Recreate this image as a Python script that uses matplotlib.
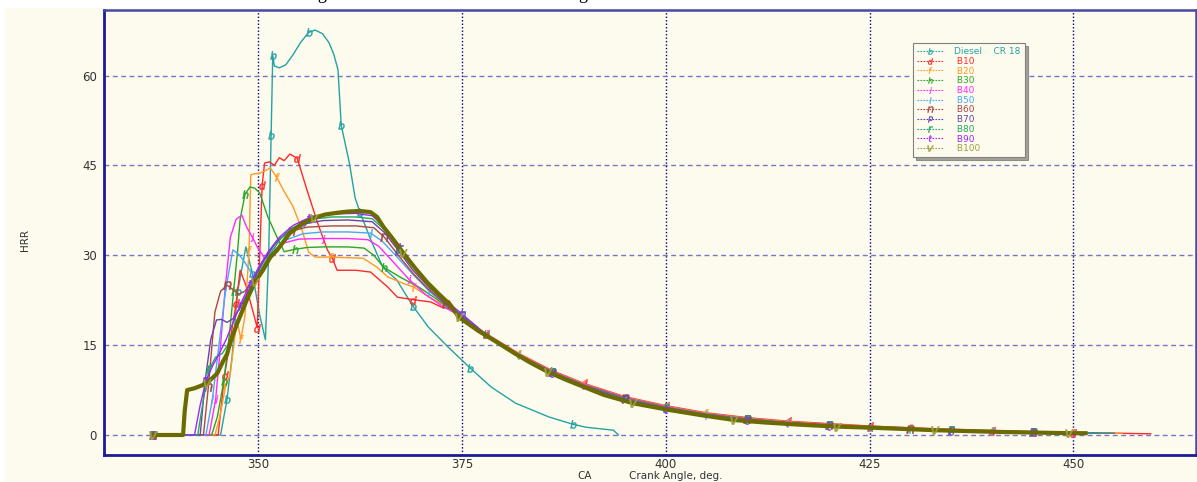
import matplotlib
matplotlib.use("Agg")
import matplotlib.pyplot as plt
from matplotlib.lines import Line2D
from matplotlib.patches import Rectangle

# ---- data (crank angle in deg, HRR) ----
names = ["Diesel", "B10", "B20", "B30", "B40", "B50", "B60", "B70", "B80", "B90", "B100"]
letters = ["b", "d", "f", "h", "j", "l", "n", "p", "r", "t", "v"]
colors = ["#23a3a3", "#ff2a2a", "#ff9a26", "#2aa52a", "#ff2aff", "#4aa6ff",
          "#a84848", "#6644aa", "#22a866", "#9a2aff", "#6b6b00"]
legend_colors = colors[:-1] + ["#a0a040"]

diesel_x = [337.1, 345.4, 346.2, 346.8, 347.5, 348.5, 349.3, 350.2, 350.9, 351.3, 351.6,
            351.8, 352.0, 352.6, 353.4, 354.3, 355.2, 356.2, 357.0, 357.9, 358.7, 359.3,
            359.8, 360.2, 361.2, 361.9, 362.5, 363.7, 365.3, 367.0, 369.0, 370.9, 373.3,
            376.0, 378.6, 381.6, 385.7, 388.6, 390.2, 393.6, 394.2]
diesel_y = [0, 0, 6, 13, 24, 31.4, 27, 20, 15.9, 30, 50, 63.4, 61.6, 61.3, 61.8, 63.5,
            65.5, 67.2, 67.6, 67.0, 65.5, 63.5, 61, 51.7, 45.4, 39.6, 37.2, 33, 28, 25.9,
            21.5, 18, 14.7, 11.2, 8.0, 5.3, 3.0, 1.8, 1.3, 0.8, 0]

b10_x = [337.1, 345.1, 345.9, 346.6, 347.3, 347.8, 348.5, 349.3, 349.9, 350.2, 350.5,
         350.8, 351.4, 352.0, 352.6, 353.2, 353.9, 354.8, 356.0, 357.3, 358.5, 359.1,
         359.7, 362.0, 363.8, 365.9, 367.1, 369.0, 371.2, 372.4, 373.9, 376.0, 378, 382,
         386, 390, 395, 400, 405, 410, 415, 420, 425, 430, 435, 440, 445, 450, 455, 459.5]
b10_y = [0, 0, 10, 16, 22, 27.5, 25, 21, 17.9, 30, 41.7, 45.4, 45.6, 45.0, 46.3, 45.8,
         46.9, 46.2, 40.9, 35.4, 30.9, 29.5, 27.5, 27.5, 27.2, 24.7, 23.0, 22.6, 22.2,
         21.4, 20.9, 18.6, 16.9, 13.6, 10.8, 8.6, 6.4, 4.9, 3.7, 2.9, 2.3, 1.9, 1.5, 1.2,
         0.95, 0.75, 0.55, 0.4, 0.3, 0.2]

b20_x = [337.1, 344.7, 345.3, 346.0, 346.6, 347.4, 347.9, 348.4, 348.9, 349.1, 349.5,
         350.2, 351.0, 351.5, 352.3, 353.1, 354.3, 355.4, 356.2, 357.0, 358.9, 362.9,
         364.6, 365.9, 368.0, 369.1, 371.0, 373.2, 375.5, 378, 382, 386, 390, 395, 400,
         405, 410, 415, 420, 425, 430, 435, 440, 445, 450, 456]
b20_y = [0, 0, 3, 8, 10.3, 19.2, 16, 20, 30.9, 43.4, 43.6, 43.7, 44.2, 44.6, 43, 40.9,
         38.1, 34.2, 30.5, 29.7, 29.7, 29.5, 28, 26.4, 25.2, 24.7, 23.0, 21.4, 19.6, 16.8,
         13.5, 10.7, 8.5, 6.3, 4.8, 3.6, 2.8, 2.2, 1.8, 1.4, 1.1, 0.9, 0.7, 0.5, 0.4, 0.3]

b30_x = [337.1, 344.3, 345.0, 345.8, 346.5, 347.0, 347.5, 347.8, 348.4, 349.0, 349.6,
         350.2, 351.2, 352.3, 353.2, 354.5, 356, 358, 361, 363, 364.2, 365.4, 367.5,
         369.7, 372, 374.5, 378, 382, 386, 390, 395, 400, 405, 410, 415, 420, 425, 430,
         435, 440, 445, 452]
b30_y = [0, 0, 3, 9, 17, 24, 30.9, 36, 40.2, 41.4, 41.2, 40.4, 36.4, 33.1, 30.6, 31.0,
         31.3, 31.4, 31.4, 31.2, 30, 28, 26.3, 24.7, 22.6, 20.0, 16.8, 13.4, 10.6, 8.4,
         6.2, 4.7, 3.5, 2.7, 2.1, 1.7, 1.35, 1.05, 0.85, 0.65, 0.5, 0.3]

b40_x = [337.1, 344.0, 344.8, 345.4, 346.0, 346.6, 347.3, 348.0, 348.6, 349.3, 349.9,
         350.8, 351.8, 353.0, 355, 358, 361, 363.5, 364.8, 366.5, 368.5, 370.5, 372.5,
         374.5, 378, 382, 386, 390, 395, 400, 405, 410, 415, 420, 425, 430, 435, 440,
         445, 450, 455]
b40_y = [0, 0, 6, 15, 25, 33, 36, 36.7, 34.7, 33, 31.4, 29.5, 30.5, 32, 32.7, 32.8,
         32.8, 32.6, 31.5, 29, 26, 23.5, 21.6, 20.1, 16.8, 13.4, 10.6, 8.4, 6.2, 4.7,
         3.5, 2.7, 2.1, 1.7, 1.35, 1.05, 0.85, 0.65, 0.5, 0.4, 0.3]

b50_x = [337.1, 343.6, 344.4, 345.2, 346.0, 346.9, 347.6, 348.3, 349.2, 350.0, 351.0,
         352.0, 353.5, 355.5, 358, 361, 363.8, 365.2, 367, 369, 371, 373, 375, 378, 382,
         386, 390, 395, 400, 405, 410, 415, 420, 425, 430, 435, 440, 445, 452]
b50_y = [0, 0, 6, 15, 24, 30.9, 30.2, 29.0, 27.0, 26.5, 28.5, 30.8, 32.6, 33.6, 33.9,
         33.9, 33.7, 32.4, 29.8, 26.8, 24.0, 21.8, 19.9, 16.7, 13.3, 10.5, 8.3, 6.1, 4.6,
         3.4, 2.6, 2.0, 1.6, 1.3, 1.0, 0.8, 0.6, 0.45, 0.3]

b60_x = [337.1, 343.3, 343.9, 344.7, 345.4, 346.2, 346.9, 347.6, 348.4, 349.3, 350.3,
         351.3, 352.5, 354, 356, 359, 362, 364.2, 365.5, 367.2, 369, 371, 373, 375, 378,
         382, 386, 390, 395, 400, 405, 410, 415, 420, 425, 430, 435, 440, 445, 451.5]
b60_y = [0, 0, 8, 20.5, 24, 25, 24.3, 23.5, 24, 26, 28.4, 30.6, 32.6, 34, 34.7, 34.9,
         34.9, 34.6, 33, 30, 27, 24.2, 21.8, 19.9, 16.7, 13.3, 10.5, 8.3, 6.1, 4.6, 3.4,
         2.6, 2.0, 1.6, 1.3, 1.0, 0.8, 0.6, 0.45, 0.3]

b70_x = [337.1, 342.9, 343.5, 344.2, 344.9, 345.5, 346.2, 347.0, 347.9, 348.8, 349.8,
         350.8, 352, 353.5, 355.5, 358, 361, 364.0, 365.5, 367.2, 369, 371, 373, 375, 378,
         382, 386, 390, 395, 400, 405, 410, 415, 420, 425, 430, 435, 440, 445, 453]
b70_y = [0, 0, 9, 16, 19.2, 19.3, 18.8, 19.5, 21.5, 24, 26.8, 29.3, 31.8, 33.8, 35.2,
         35.8, 35.9, 35.6, 33.8, 30.8, 27.5, 24.6, 22, 20, 16.7, 13.3, 10.5, 8.2, 6.0,
         4.5, 3.4, 2.6, 2.0, 1.6, 1.3, 1.0, 0.8, 0.6, 0.45, 0.3]

b80_x = [337.1, 342.6, 343.3, 344.0, 344.8, 345.6, 346.5, 347.4, 348.4, 349.4, 350.4,
         351.5, 352.8, 354.5, 356.5, 359, 362, 364.0, 365.6, 367.4, 369.2, 371, 373, 375,
         378, 382, 386, 390, 395, 400, 405, 410, 415, 420, 425, 430, 435, 440, 445, 450,
         455]
b80_y = [0, 0, 6, 11, 13, 13.6, 15.5, 18.5, 22, 25, 27.8, 30.3, 32.8, 34.8, 36, 36.4,
         36.4, 36.1, 34.2, 31, 27.8, 24.8, 22.2, 20.1, 16.7, 13.3, 10.5, 8.2, 6.0, 4.5,
         3.4, 2.6, 2.0, 1.6, 1.3, 1.0, 0.8, 0.6, 0.45, 0.35, 0.3]

b90_x = [337.1, 342.2, 342.9, 343.6, 344.4, 345.2, 346.1, 347.0, 348.0, 349.0, 350.0,
         351.2, 352.6, 354.3, 356.3, 359, 362, 364.0, 365.6, 367.4, 369.2, 371, 373, 375,
         378, 382, 386, 390, 395, 400, 405, 410, 415, 420, 425, 430, 435, 440, 445, 451.5]
b90_y = [0, 0, 5, 9, 11.5, 13.5, 16, 19, 22.3, 25.2, 27.8, 30.5, 33, 35, 36.3, 36.9,
         37.0, 36.6, 34.6, 31.4, 28.2, 25.2, 22.5, 20.2, 16.7, 13.3, 10.4, 8.1, 5.9, 4.4,
         3.3, 2.5, 1.9, 1.55, 1.25, 0.95, 0.75, 0.55, 0.42, 0.3]

b100_x = [337.1, 340.8, 341.0, 341.3, 342.2, 343.7, 345.0, 345.7, 346.2, 346.6, 347.4,
          348.6, 349.6, 350.6, 351.5, 352.3, 353.9, 355.3, 356.8, 358.2, 359.7, 361.0,
          362.5, 363.8, 364.6, 365.4, 366.5, 367.8, 369.3, 370.8, 372.2, 373.6, 374.6,
          377, 379.4, 381.5, 383.5, 385.6, 387.8, 390, 392.4, 396, 400.3, 404.4, 408.4,
          412, 416.7, 421, 425.6, 433, 441.3, 449.5, 451.5]
b100_y = [0, 0, 4, 7.5, 7.8, 8.6, 10.3, 12.3, 13.5, 15.5, 18.5, 22.5, 25.5, 27.5, 29.7,
          30.8, 33.7, 35.2, 36.2, 36.8, 37.1, 37.3, 37.4, 37.2, 36.4, 34.7, 32.8, 30.4,
          27.8, 25.4, 23.5, 21.7, 19.7, 17.4, 15.4, 13.6, 12.0, 10.5, 9.2, 8.0, 6.7, 5.3,
          4.2, 3.3, 2.5, 2.1, 1.7, 1.4, 1.2, 0.8, 0.5, 0.3, 0.3]

series = [(diesel_x, diesel_y), (b10_x, b10_y), (b20_x, b20_y), (b30_x, b30_y),
          (b40_x, b40_y), (b50_x, b50_y), (b60_x, b60_y), (b70_x, b70_y),
          (b80_x, b80_y), (b90_x, b90_y), (b100_x, b100_y)]

x_ticks = [350, 375, 400, 425, 450]
y_ticks = [0, 15, 30, 45, 60]

cream = "#fdfaee"
W, H = 1197, 482

fig = plt.figure(figsize=(W / 100, H / 100), dpi=100, facecolor="white")
fig.patches.append(Rectangle((5 / W, 0), 1, 1 - 8 / H, transform=fig.transFigure,
                             facecolor=cream, edgecolor="none", zorder=-10))
ax = fig.add_axes([104 / W, 1 - 455 / H, 1092 / W, 445 / H])
ax.set_facecolor(cream)

# grid: dotted navy verticals, dashed lavender horizontals
for xv in x_ticks:
    ax.axvline(xv, color="#00007f", lw=1.0, ls=(0, (1, 1.5)), zorder=0)
for yv in y_ticks:
    ax.axhline(yv, color="#7676c4", lw=1.0, ls=(0, (3.5, 2.5)), zorder=0)

for i, (xs, ys) in enumerate(series):
    mc = legend_colors[i]
    lw = 3.0 if names[i] == "B100" else 1.0
    ax.plot(xs, ys, color=colors[i], lw=lw, zorder=3 if i == 10 else 2,
            marker="$" + letters[i] + "$", markersize=6, markevery=0.085,
            markeredgewidth=0.3, markerfacecolor=mc, markeredgecolor=mc)

ax.set_xlim(331.1, 465.05)
ax.set_ylim(-3.34, 70.95)
ax.set_xticks(x_ticks)
ax.set_yticks(y_ticks)
ax.tick_params(axis="both", direction="in", length=0, labelsize=8.5,
               labelcolor="#333333")
ax.tick_params(axis="x", pad=2)
ax.tick_params(axis="y", pad=5)

for side in ["left", "bottom"]:
    ax.spines[side].set_color("#1c1c96")
    ax.spines[side].set_linewidth(2)
for side in ["top", "right"]:
    ax.spines[side].set_color("#4848a8")
    ax.spines[side].set_linewidth(1.8)

# legend
handles = [Line2D([], [], color=legend_colors[i], lw=0.8, ls=(0, (1.5, 1.2)),
                  marker="$" + letters[i] + "$", markersize=4.5, markeredgewidth=0.2)
           for i in range(11)]
labels = ["Diesel    CR 18"] + [" " + n for n in names[1:]]
leg = ax.legend(handles, labels, loc="upper left", bbox_to_anchor=(0.737, 0.936),
                fontsize=6.5, labelcolor=legend_colors, handlelength=2.8,
                handletextpad=1.3, labelspacing=0.08, borderpad=0.45,
                frameon=True, fancybox=False, shadow=True, facecolor=cream,
                edgecolor="#808080", framealpha=1)
leg.get_frame().set_linewidth(0.8)

fig.text(25 / W, 1 - 240 / H, "HRR", rotation=90, fontsize=7.5, color="#333333",
         ha="center", va="center")
fig.text(585 / W, 1 - 476 / H, "CA", fontsize=7.5, color="#333333",
         ha="center", va="center")
fig.text(676 / W, 1 - 476 / H, "Crank Angle, deg.", fontsize=7.5, color="#333333",
         ha="center", va="center")
# caption line cut off by the top edge: only its descenders show
fig.text(0.5, 1 + 1 / H,
         "Fig. 4.12 Heat release rate vs crank angle for diesel and biodiesel blends at CR 18",
         family="Liberation Serif", fontsize=13, ha="center", va="baseline", color="black")

fig.savefig("out.png", dpi=100, facecolor=fig.get_facecolor())
